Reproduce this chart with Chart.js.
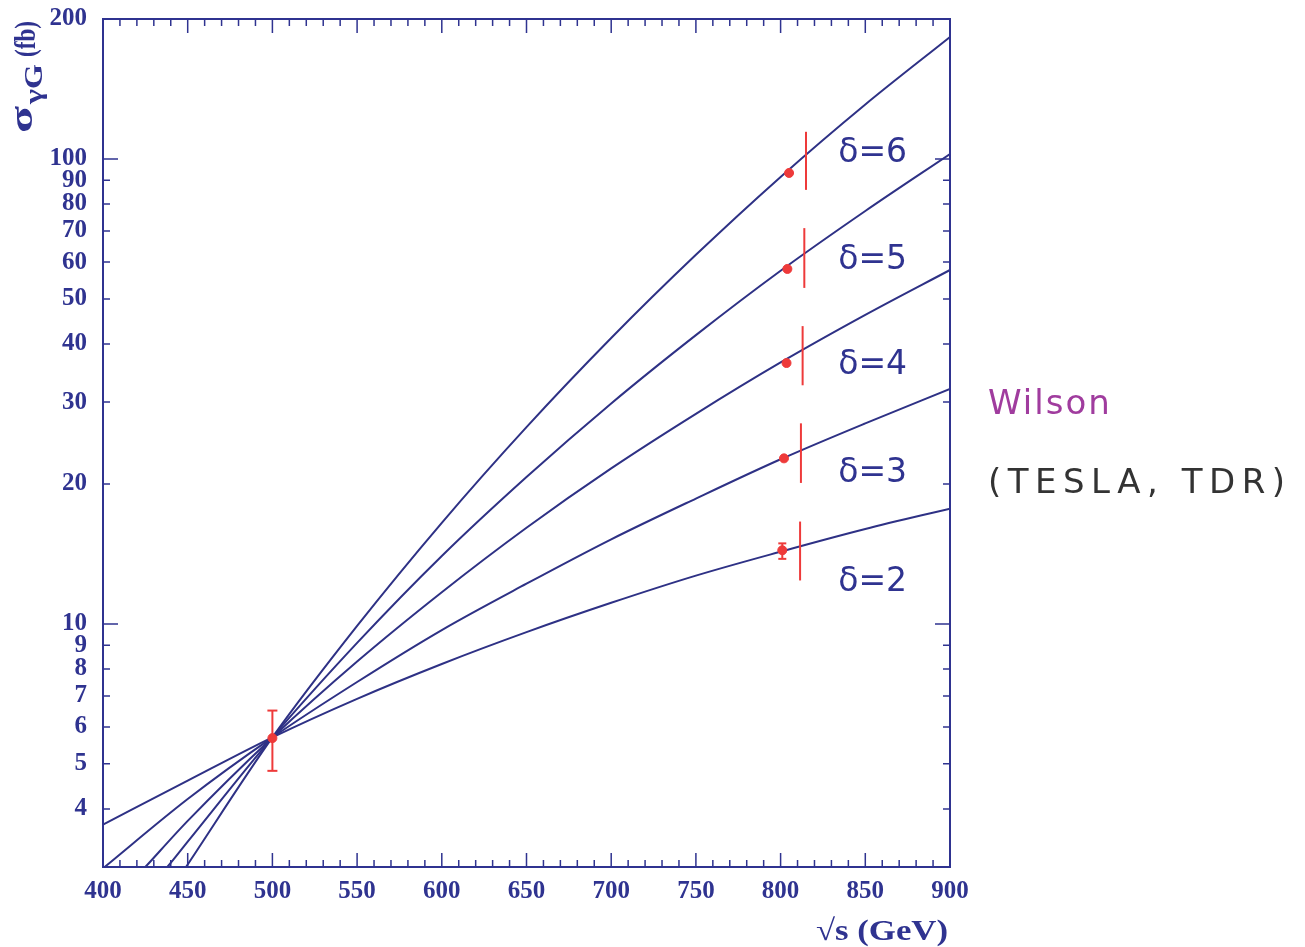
<!DOCTYPE html>
<html>
<head>
<meta charset="utf-8">
<script src="https://cdn.jsdelivr.net/npm/chart.js@4.4.1/dist/chart.umd.min.js"></script>
<style>
  html, body { margin: 0; padding: 0; background: #ffffff; }
  #wrap { width: 1305px; height: 947px; }
</style>
</head>
<body>
<div id="wrap"><canvas id="graphique" width="1305" height="947"></canvas></div>
<script>
// Energie (GeV) et sections efficaces (fb)
const sqrtS = [400, 450, 500, 550, 600, 650, 700, 750, 800, 850, 900]
const sigmaD2 = [3.7, 4.6, 5.7, 6.9, 8.2, 9.6, 11.1, 12.7, 14.3, 16.0, 17.7]
const sigmaD3 = [2.98, 4.2, 5.7, 7.5, 9.7, 12.2, 15.2, 18.6, 22.6, 27.0, 32.0]
const sigmaD4 = [null, 3.77, 5.7, 8.3, 11.7, 16.1, 21.6, 28.3, 36.5, 46.2, 57.7]
const sigmaD5 = [null, 3.4, 5.7, 9.1, 14.0, 20.7, 29.8, 41.8, 57.5, 77.3, 102.5]
const sigmaD6 = [null, null, 5.7, 9.9, 16.5, 26.5, 41.2, 62.2, 91.5, 131, 183]

// point ou la courbe sort par le bas du cadre (sigma = 3 fb)
const edgeS = [null, null, 425, 438, 449]
const edgeSigma = 3.0

// mesure a 500 GeV
const measS = 500
const measSigma = 5.68
const measErr = [4.83, 6.51]

// points rouges vers 800 GeV
const dotS = [801, 802, 803.5, 804, 805]
const dotSigma = [14.4, 22.7, 36.4, 58.0, 93.3]
const dotErrD2 = [13.8, 14.9]

// barres rouges verticales
const bandS = [811.5, 812, 813, 814, 815]
const bandLow = [12.4, 20.1, 32.6, 52.8, 85.8]
const bandHigh = [16.6, 27.0, 43.7, 71.0, 114.4]

// etiquettes des courbes
const deltaLabels = ["δ=2", "δ=3", "δ=4", "δ=5", "δ=6"]
const labelS = 834
const labelSigma = [12.3, 21.1, 35.9, 60.6, 103]

const yTicks = [4, 5, 6, 7, 8, 9, 10, 20, 30, 40, 50, 60, 70, 80, 90, 100, 200]

const navy = "#2f3390"
const lineBlue = "#2e3185"
const red = "#ee3a3a"
const serif = "'Liberation Serif', 'Times New Roman', serif"
const sans = "'DejaVu Sans', sans-serif"

const curves = [sigmaD2, sigmaD3, sigmaD4, sigmaD5, sigmaD6]
const datasets = []

curves.forEach((values, i) => {
  const pts = []
  if (edgeS[i] !== null) pts.push({ x: edgeS[i], y: edgeSigma })
  for (let k = 0; k < sqrtS.length; k++) {
    if (values[k] !== null && (edgeS[i] === null || sqrtS[k] > edgeS[i])) {
      pts.push({ x: sqrtS[k], y: values[k] })
    }
  }
  datasets.push({
    data: pts,
    borderColor: lineBlue,
    borderWidth: 2,
    pointRadius: 0,
    cubicInterpolationMode: "monotone",
    order: 2,
  })
})

// barres rouges
for (let i = 0; i < bandS.length; i++) {
  datasets.push({
    data: [
      { x: bandS[i], y: bandLow[i] },
      { x: bandS[i], y: bandHigh[i] },
    ],
    borderColor: red,
    borderWidth: 2,
    pointRadius: 0,
    order: 1,
  })
}

// barres d'erreur (avec petits traits horizontaux)
const errBars = [
  { s: measS, e: measErr },
  { s: dotS[0], e: dotErrD2 },
]
errBars.forEach((b, i) => {
  datasets.push({
    data: [
      { x: b.s, y: b.e[0] },
      { x: b.s, y: b.e[1] },
    ],
    borderColor: red,
    borderWidth: 2,
    pointStyle: "line",
    pointRadius: i === 0 ? 5 : 4,
    pointBorderColor: red,
    pointBorderWidth: 2,
    order: 1,
  })
})

// points rouges
datasets.push({
  data: [{ x: measS, y: measSigma }].concat(dotS.map((s, i) => ({ x: s, y: dotSigma[i] }))),
  showLine: false,
  pointRadius: 4.5,
  pointBackgroundColor: red,
  pointBorderColor: red,
  order: 0,
})

// texte etire / comprime a une largeur donnee
function fitText(ctx, text, x, y, width) {
  const m = ctx.measureText(text).width
  ctx.save()
  ctx.translate(x, y)
  ctx.scale(width / m, 1)
  ctx.fillText(text, 0, 0)
  ctx.restore()
}

// cadre, graduations interieures et textes
const decorPlugin = {
  id: "decor",
  afterDraw(chart) {
    const { ctx, chartArea: a, scales } = chart
    const xs = scales.x
    const ys = scales.y
    ctx.save()
    ctx.strokeStyle = navy
    ctx.lineWidth = 2
    ctx.strokeRect(a.left, a.top, a.right - a.left, a.bottom - a.top)

    ctx.lineWidth = 1.5
    ctx.beginPath()
    for (let v = 400; v <= 900; v += 10) {
      const px = xs.getPixelForValue(v)
      const len = v % 50 === 0 ? 14 : 7
      ctx.moveTo(px, a.bottom)
      ctx.lineTo(px, a.bottom - len)
      ctx.moveTo(px, a.top)
      ctx.lineTo(px, a.top + len)
    }
    yTicks.forEach((v) => {
      const py = ys.getPixelForValue(v)
      const len = v === 10 || v === 100 ? 15 : 7
      ctx.moveTo(a.left, py)
      ctx.lineTo(a.left + len, py)
      ctx.moveTo(a.right, py)
      ctx.lineTo(a.right - len, py)
    })
    ctx.stroke()

    // etiquettes delta
    ctx.fillStyle = navy
    ctx.font = "33px " + sans
    ctx.textAlign = "left"
    ctx.textBaseline = "middle"
    deltaLabels.forEach((t, i) => {
      ctx.fillText(t, xs.getPixelForValue(labelS), ys.getPixelForValue(labelSigma[i]))
    })

    // titre axe y
    ctx.save()
    ctx.translate(32, 133)
    ctx.rotate(-Math.PI / 2)
    ctx.textBaseline = "alphabetic"
    ctx.font = "bold 32px " + serif
    fitText(ctx, "σ", 0, 0, 27)
    ctx.font = "bold 25px " + serif
    fitText(ctx, "γG", 29, 10, 40)
    ctx.font = "bold 30px " + serif
    fitText(ctx, "(fb)", 76, 3, 36)
    ctx.restore()

    // titre axe x
    ctx.textAlign = "left"
    ctx.textBaseline = "alphabetic"
    ctx.font = "bold 30px " + serif
    fitText(ctx, "√s (GeV)", 816, 940, 132)

    // texte a droite
    ctx.font = "34px " + sans
    ctx.fillStyle = "#a03c9e"
    ctx.letterSpacing = "2px"
    ctx.fillText("Wilson", 988, 414)
    ctx.fillStyle = "#333333"
    ctx.letterSpacing = "6.5px"
    ctx.fillText("(TESLA, TDR)", 988, 493)
    ctx.restore()
  },
}

new Chart(document.querySelector("#graphique"), {
  type: "line",
  data: { datasets: datasets },
  options: {
    responsive: false,
    animation: false,
    layout: { padding: { left: 0, right: 355, top: 19, bottom: 40 } },
    plugins: {
      legend: { display: false },
      tooltip: { enabled: false },
    },
    scales: {
      x: {
        type: "linear",
        min: 400,
        max: 900,
        grid: { display: false, drawTicks: false },
        border: { display: false },
        ticks: {
          stepSize: 50,
          padding: 10,
          color: navy,
          font: { family: serif, weight: "bold", size: 25 },
        },
        afterFit: (s) => {
          s.height = 40
          s.paddingLeft = 0
          s.paddingRight = 0
        },
      },
      y: {
        type: "logarithmic",
        min: 3,
        max: 200,
        grid: { display: false, drawTicks: false },
        border: { display: false },
        afterBuildTicks: (axis) => {
          axis.ticks = yTicks.map((v) => ({ value: v }))
        },
        ticks: {
          autoSkip: false,
          padding: 16,
          color: navy,
          font: { family: serif, weight: "bold", size: 25 },
          callback: (v) => String(v),
        },
        afterFit: (s) => {
          s.width = 103
          s.paddingTop = 0
          s.paddingBottom = 0
        },
      },
    },
  },
  plugins: [decorPlugin],
})
</script>
</body>
</html>
